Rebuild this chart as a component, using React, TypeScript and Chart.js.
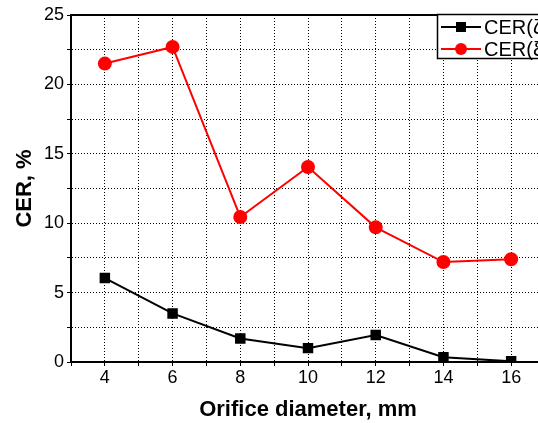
import React, { useEffect, useRef } from "react";
import { Chart, registerables } from "chart.js";

Chart.register(...registerables);

const diameters = [4, 6, 8, 10, 12, 14, 16];
const cerZeta = [6.05, 3.5, 1.7, 1.0, 1.95, 0.35, 0.05];
const cerXi = [21.5, 22.7, 10.45, 14.05, 9.7, 7.2, 7.4];
const seriesLabels = ["CER(ζ)", "CER(ξ)"];
const xTitle = "Orifice diameter, mm";
const yTitle = "CER, %";

const FONT = "'Liberation Sans', Arial, sans-serif";

const framePlugin = {
  id: "frame",
  afterDraw(chart: any) {
    const { ctx, chartArea } = chart;
    ctx.save();
    ctx.strokeStyle = "#000";
    ctx.lineWidth = 2;
    ctx.strokeRect(chartArea.left, chartArea.top, chartArea.right - chartArea.left, chartArea.bottom - chartArea.top);
    const bx = 437, by = 14, bw = 140, bh = 44;
    ctx.fillStyle = "#fff";
    ctx.fillRect(bx, by, bw, bh);
    ctx.lineWidth = 1.5;
    ctx.strokeStyle = "#000";
    ctx.strokeRect(bx + 0.5, by + 0.5, bw, bh);
    chart.data.datasets.forEach((ds: any, i: number) => {
      const y = by + 13 + i * 22;
      ctx.strokeStyle = ds.borderColor;
      ctx.lineWidth = 2;
      ctx.beginPath();
      ctx.moveTo(bx + 4, y);
      ctx.lineTo(bx + 44, y);
      ctx.stroke();
      ctx.fillStyle = ds.backgroundColor;
      if (ds.pointStyle === "rect") {
        ctx.fillRect(bx + 24 - 5, y - 5, 10, 10);
      } else {
        ctx.beginPath();
        ctx.arc(bx + 24, y, 6, 0, Math.PI * 2);
        ctx.fill();
      }
      ctx.fillStyle = "#000";
      ctx.font = `20px ${FONT}`;
      ctx.textBaseline = "middle";
      ctx.textAlign = "left";
      ctx.fillText(ds.label, bx + 47, y + 1);
    });
    ctx.restore();
  },
};

export default function App() {
  const ref = useRef<HTMLCanvasElement>(null);
  useEffect(() => {
    if (!ref.current) return;
    const chart = new Chart(ref.current, {
      type: "line",
      data: {
        datasets: [
          {
            label: seriesLabels[0],
            data: diameters.map((d, i) => ({ x: d, y: cerZeta[i] })),
            borderColor: "#000",
            backgroundColor: "#000",
            pointStyle: "rect",
            pointRadius: 6,
            borderWidth: 2,
          },
          {
            label: seriesLabels[1],
            data: diameters.map((d, i) => ({ x: d, y: cerXi[i] })),
            borderColor: "#ff0000",
            backgroundColor: "#ff0000",
            pointStyle: "circle",
            pointRadius: 6,
            borderWidth: 2,
          },
        ] as any,
      },
      options: {
        animation: false,
        responsive: false,
        layout: { padding: { top: 15, right: 15, left: 0, bottom: 0 } },
        plugins: { legend: { display: false }, tooltip: { enabled: false } },
        scales: {
          x: {
            type: "linear",
            min: 3,
            max: 17,
            ticks: {
              stepSize: 1,
              autoSkip: false,
              maxRotation: 0,
              color: "#000",
              font: { family: FONT, size: 18 },
              padding: 1,
              callback: (v: any) => (v % 2 === 0 && v >= 4 && v <= 16 ? String(v) : ""),
            },
            grid: { color: "#000", lineWidth: 1, tickLength: 4, tickColor: "#000" },
            border: { display: true, color: "#000", width: 2, dash: [1, 2] } as any,
            title: {
              display: true,
              text: xTitle,
              color: "#000",
              font: { family: FONT, size: 22, weight: "bold" },
              padding: { top: 4, bottom: 0 },
            },
            afterFit: (s: any) => {
              s.height = 61;
            },
          },
          y: {
            min: 0,
            max: 25,
            ticks: {
              stepSize: 2.5,
              autoSkip: false,
              color: "#000",
              font: { family: FONT, size: 18 },
              padding: 3,
              callback: (v: any) => (v % 5 === 0 ? String(v) : ""),
            },
            grid: { color: "#000", lineWidth: 1, tickLength: 4, tickColor: "#000" },
            border: { display: true, color: "#000", width: 2, dash: [1, 2] } as any,
            title: {
              display: true,
              text: yTitle,
              color: "#000",
              font: { family: FONT, size: 22, weight: "bold" },
              padding: { top: 12, bottom: 6 },
            },
            afterFit: (s: any) => {
              s.width = 71;
            },
          },
        },
      } as any,
      plugins: [framePlugin],
    });
    return () => chart.destroy();
  }, []);
  return (
    <div style={{ position: "fixed", left: 0, top: 0, width: 538, height: 423, overflow: "hidden", background: "#fff" }}>
      <canvas ref={ref} width={560} height={423} style={{ width: 560, height: 423, display: "block" }} />
    </div>
  );
}
